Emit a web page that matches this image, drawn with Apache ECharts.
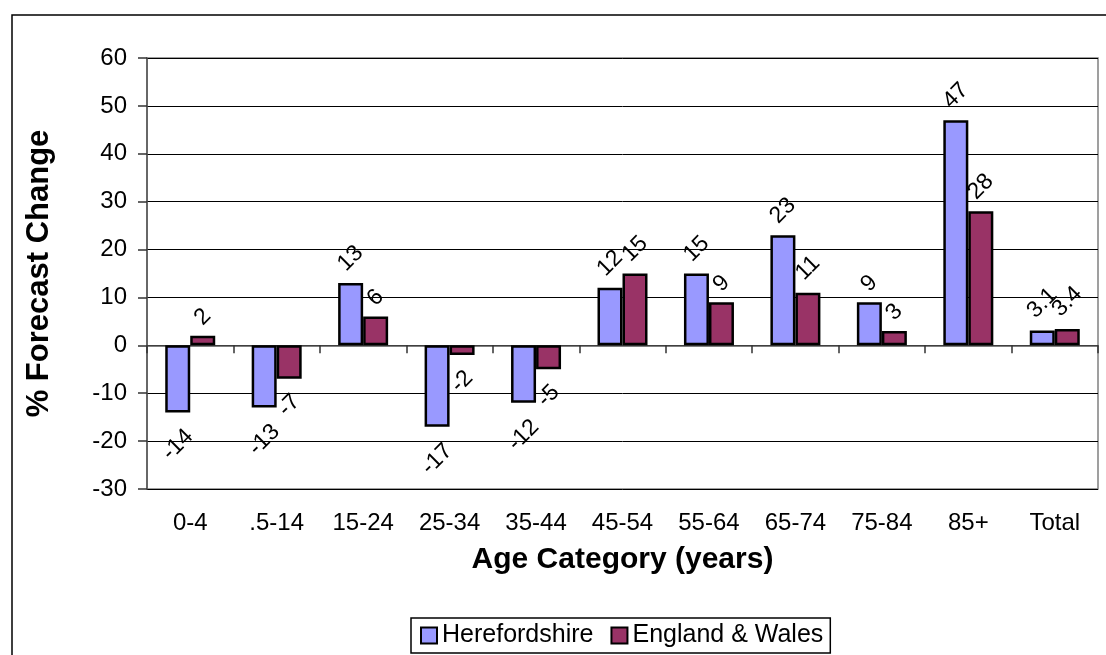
<!DOCTYPE html>
<html>
<head>
<meta charset="utf-8">
<script src="https://cdn.jsdelivr.net/npm/echarts@6/dist/echarts.min.js"></script>
<style>
  html, body { margin: 0; padding: 0; background: #fff; }
  #chart { width: 1106px; height: 655px; }
</style>
</head>
<body>
<div id="chart"></div>
<script>
// Age groups on the category axis
const categories = ['0-4', '.5-14', '15-24', '25-34', '35-44', '45-54', '55-64', '65-74', '75-84', '85+', 'Total'];
// Forecast % change per age group
const herefordshire = [-14, -13, 13, -17, -12, 12, 15, 23, 9, 47, 3.1];
const englandWales = [2, -7, 6, -2, -5, 15, 9, 11, 3, 28, 3.4];
// Value axis range
const yMin = -30, yMax = 60, yStep = 10;

const FONT = '"Liberation Sans", Arial, sans-serif';

// rough text width for the rotated value labels
function textWidth(s, size) {
  let w = 0;
  for (const ch of s) {
    if (ch === '-') w += 0.333;
    else if (ch === '.') w += 0.278;
    else w += 0.556;
  }
  return w * size;
}

const LABEL_SIZE = 23;
function buildData(values) {
  return values.map(v => {
    const txt = String(v);
    const w = textWidth(txt, LABEL_SIZE);
    return {
      value: v,
      label: {
        position: v >= 0 ? 'top' : 'bottom',
        distance: (v >= 0 ? 13 : 17.5) + 0.45 * w
      }
    };
  });
}

const labelCommon = {
  show: true,
  rotate: 45,
  align: 'center',
  verticalAlign: 'middle',
  fontFamily: FONT,
  fontSize: LABEL_SIZE,
  color: '#000'
};

const chart = echarts.init(document.getElementById('chart'), null, { renderer: 'canvas' });

chart.setOption({
  animation: false,
  backgroundColor: '#fff',
  grid: {
    left: 147, right: 8, top: 58, bottom: 166,
    show: true, borderColor: '#808080', borderWidth: 1.5, backgroundColor: 'transparent'
  },
  graphic: [
    {
      type: 'rect',
      shape: { x: 12, y: 15, width: 1200, height: 800 },
      style: { fill: 'none', stroke: '#000', lineWidth: 1.5 },
      silent: true
    }
  ],
  legend: {
    data: ['Herefordshire', 'England & Wales'],
    bottom: 2,
    left: 411,
    orient: 'horizontal',
    icon: 'rect',
    itemWidth: 16,
    itemHeight: 16,
    itemGap: 17,
    padding: [5, 7, 5, 9],
    borderColor: '#000',
    borderWidth: 1.5,
    textStyle: { fontFamily: FONT, fontSize: 25, color: '#000' }
  },
  xAxis: [
    {
      type: 'category',
      data: categories,
      position: 'bottom',
      axisLine: { show: false, onZero: false },
      axisTick: { show: false },
      axisLabel: { fontFamily: FONT, fontSize: 24, color: '#000', margin: 22, interval: 0 },
      splitLine: { show: false },
      name: 'Age Category (years)',
      nameLocation: 'middle',
      nameGap: 56,
      nameTextStyle: { fontFamily: FONT, fontSize: 30, fontWeight: 'bold', color: '#000' }
    },
    {
      type: 'category',
      data: categories,
      position: 'bottom',
      axisLine: { show: true, onZero: true, lineStyle: { color: '#555', width: 1.5 } },
      axisTick: { show: true, length: 8, lineStyle: { color: '#333', width: 1.5 } },
      axisLabel: { show: false },
      splitLine: { show: false }
    }
  ],
  yAxis: {
    type: 'value',
    min: yMin, max: yMax, interval: yStep,
    axisLine: { show: true, lineStyle: { color: '#555', width: 1.5 } },
    axisTick: { show: true, length: 9, lineStyle: { color: '#333', width: 1.5 } },
    axisLabel: { fontFamily: FONT, fontSize: 24, color: '#000', margin: 20 },
    splitLine: { show: true, lineStyle: { color: '#000', width: 1 } },
    name: '% Forecast Change',
    nameLocation: 'middle',
    nameRotate: 90,
    nameGap: 92,
    nameTextStyle: { fontFamily: FONT, fontSize: 31, fontWeight: 'bold', color: '#000' }
  },
  series: [
    {
      name: 'Herefordshire',
      type: 'bar',
      xAxisIndex: 0,
      barWidth: 25,
      barGap: '0%',
      itemStyle: { color: '#9999FF', borderColor: '#000', borderWidth: 2.5 },
      label: labelCommon,
      data: buildData(herefordshire)
    },
    {
      name: 'England & Wales',
      type: 'bar',
      xAxisIndex: 0,
      barWidth: 25,
      barGap: '0%',
      itemStyle: { color: '#993366', borderColor: '#000', borderWidth: 2.5 },
      label: labelCommon,
      data: buildData(englandWales)
    }
  ]
});
</script>
</body>
</html>
